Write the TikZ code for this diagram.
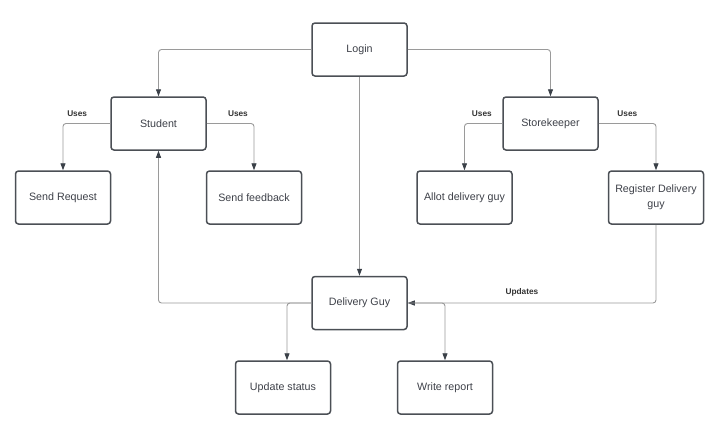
\documentclass[tikz,border=0pt]{standalone}
\usepackage{fontspec}
\setmainfont{Liberation Sans}
\usetikzlibrary{arrows.meta}

\definecolor{boxline}{HTML}{4B4F55}
\definecolor{connline}{HTML}{9A9A9A}
\definecolor{tipcol}{HTML}{3A4048}
\definecolor{txtcol}{HTML}{3D4048}

\begin{document}
\begin{tikzpicture}[
        x=1pt, y=-1pt,
        box/.style = {
            shape=rectangle,
            rounded corners=3pt,
            draw=boxline,
            line width=1.5pt,
            minimum width=95pt,
            minimum height=53pt,
            inner sep=2pt,
            align=center,
            text=txtcol,
            font=\fontsize{10.7}{15}\selectfont
        },
        conn/.style={draw=connline, line width=0.9pt, rounded corners=3pt,
            -{Triangle[length=7pt,width=5pt,color=tipcol,fill=tipcol]}},
        uses/.style={above=4pt, inner sep=2pt, text=black!80,
            font=\fontsize{8.3}{10}\selectfont\bfseries}
    ]
    \useasboundingbox (0,0) rectangle (721,434);

    % RAIZ
    \node[box] (login) at (359.5,49.5) {Login};
    % USUARIOS
    \node[box] (student) at (158.5,123.5) {Student};
    \node[box] (storekeeper) at (550.5,123.5) {Storekeeper};
    \node[box] (dguy) at (359.5,303) {Delivery Guy};
    % ACOES
    \node[box] (sendreq) at (63,197.5) {Send Request};
    \node[box] (sendfb) at (254,197.5) {Send feedback};
    \node[box] (allot) at (464.5,197.5) {Allot delivery guy};
    \node[box] (register) at (656,197.5) {Register Delivery\\guy};
    \node[box] (updstatus) at (283,387.5) {Update status};
    \node[box] (wreport) at (445,387.5) {Write report};

    % LIGACOES
    \draw[conn] (login.west) -| (student.north);
    \draw[conn] (login.east) -| (storekeeper.north);
    \draw[conn] (login.south) -- (dguy.north);
    \draw[conn] (student.west) -| node[uses, pos=0.35] {Uses} (sendreq.north);
    \draw[conn] (student.east) -| node[uses, pos=0.33] {Uses} (sendfb.north);
    \draw[conn] (storekeeper.west) -| node[uses, pos=0.27] {Uses} (allot.north);
    \draw[conn] (storekeeper.east) -| node[uses, pos=0.25] {Uses} (register.north);
    \draw[conn] (dguy.west) -| (student.south);
    \draw[conn] (register.south) |- node[uses, pos=0.77] {Updates} (dguy.east);
    \draw[conn] (dguy.west) -| ([xshift=4pt]updstatus.north);
    \draw[conn] (dguy.east) -| (wreport.north);
\end{tikzpicture}
\end{document}
